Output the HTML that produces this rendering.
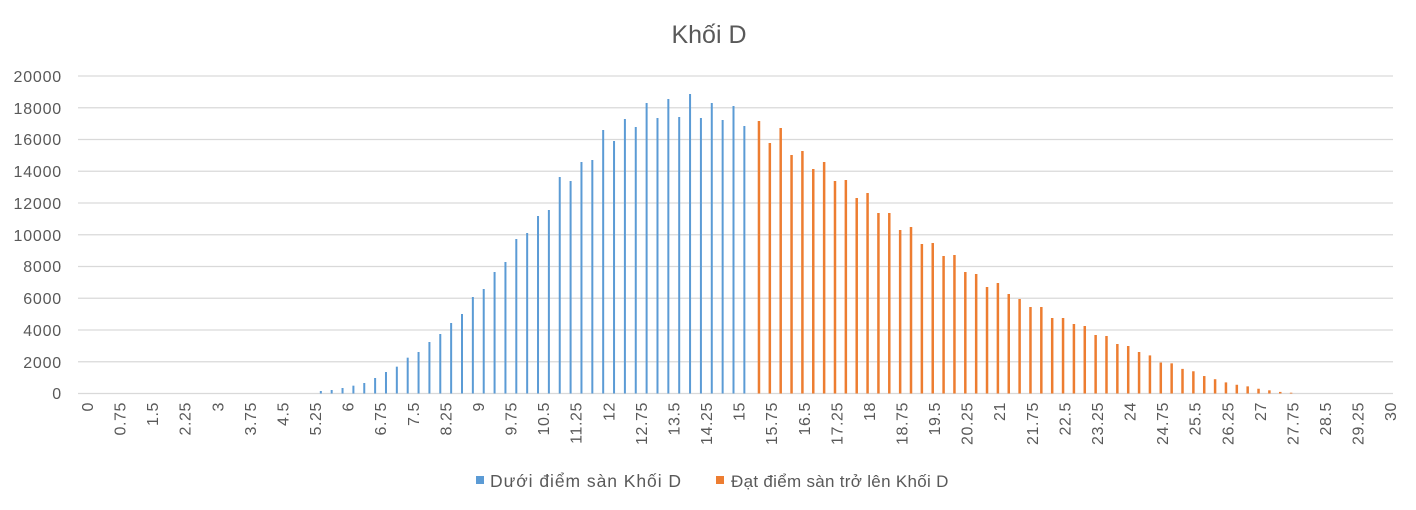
<!DOCTYPE html>
<html><head><meta charset="utf-8"><style>
body{margin:0;background:#fff;}
svg{display:block;font-family:"Liberation Sans",sans-serif;}
</style></head><body>
<svg id="c" width="1416" height="510" viewBox="0 0 1416 510" xmlns="http://www.w3.org/2000/svg">
<rect width="1416" height="510" fill="#fff"/>
<text x="709" y="43" text-anchor="middle" font-size="25" fill="#595959">Khối D</text>
<g stroke="#d9d9d9" stroke-width="1.3">
<line x1="78" x2="1393" y1="76" y2="76"/><line x1="78" x2="1393" y1="107.75" y2="107.75"/>
<line x1="78" x2="1393" y1="139.5" y2="139.5"/><line x1="78" x2="1393" y1="171.25" y2="171.25"/>
<line x1="78" x2="1393" y1="203" y2="203"/><line x1="78" x2="1393" y1="234.75" y2="234.75"/>
<line x1="78" x2="1393" y1="266.5" y2="266.5"/><line x1="78" x2="1393" y1="298.25" y2="298.25"/>
<line x1="78" x2="1393" y1="330" y2="330"/><line x1="78" x2="1393" y1="361.75" y2="361.75"/>
<line x1="78" x2="1393" y1="393.5" y2="393.5"/>
</g>
<g font-size="16" letter-spacing="0.8" fill="#595959" text-anchor="end">
<text x="62" y="82">20000</text><text x="62" y="114">18000</text><text x="62" y="145">16000</text>
<text x="62" y="177">14000</text><text x="62" y="209">12000</text><text x="62" y="241">10000</text>
<text x="62" y="272">8000</text><text x="62" y="304">6000</text><text x="62" y="336">4000</text>
<text x="62" y="368">2000</text><text x="62" y="399">0</text>
</g>
<g id="bars"></g>
<g font-size="16" letter-spacing="0.6" fill="#595959" text-anchor="end">
<text transform="translate(93,402) rotate(-90)">0</text>
<text transform="translate(125.6,402) rotate(-90)">0.75</text>
<text transform="translate(158.2,402) rotate(-90)">1.5</text>
<text transform="translate(190.7,402) rotate(-90)">2.25</text>
<text transform="translate(223.3,402) rotate(-90)">3</text>
<text transform="translate(255.9,402) rotate(-90)">3.75</text>
<text transform="translate(288.5,402) rotate(-90)">4.5</text>
<text transform="translate(321.1,402) rotate(-90)">5.25</text>
<text transform="translate(353.6,402) rotate(-90)">6</text>
<text transform="translate(386.2,402) rotate(-90)">6.75</text>
<text transform="translate(418.8,402) rotate(-90)">7.5</text>
<text transform="translate(451.4,402) rotate(-90)">8.25</text>
<text transform="translate(484,402) rotate(-90)">9</text>
<text transform="translate(516.5,402) rotate(-90)">9.75</text>
<text transform="translate(549.1,402) rotate(-90)">10.5</text>
<text transform="translate(581.7,402) rotate(-90)">11.25</text>
<text transform="translate(614.3,402) rotate(-90)">12</text>
<text transform="translate(646.9,402) rotate(-90)">12.75</text>
<text transform="translate(679.4,402) rotate(-90)">13.5</text>
<text transform="translate(712,402) rotate(-90)">14.25</text>
<text transform="translate(744.6,402) rotate(-90)">15</text>
<text transform="translate(777.2,402) rotate(-90)">15.75</text>
<text transform="translate(809.8,402) rotate(-90)">16.5</text>
<text transform="translate(842.3,402) rotate(-90)">17.25</text>
<text transform="translate(874.9,402) rotate(-90)">18</text>
<text transform="translate(907.5,402) rotate(-90)">18.75</text>
<text transform="translate(940.1,402) rotate(-90)">19.5</text>
<text transform="translate(972.7,402) rotate(-90)">20.25</text>
<text transform="translate(1005.2,402) rotate(-90)">21</text>
<text transform="translate(1037.8,402) rotate(-90)">21.75</text>
<text transform="translate(1070.4,402) rotate(-90)">22.5</text>
<text transform="translate(1103,402) rotate(-90)">23.25</text>
<text transform="translate(1135.6,402) rotate(-90)">24</text>
<text transform="translate(1168.1,402) rotate(-90)">24.75</text>
<text transform="translate(1200.7,402) rotate(-90)">25.5</text>
<text transform="translate(1233.3,402) rotate(-90)">26.25</text>
<text transform="translate(1265.9,402) rotate(-90)">27</text>
<text transform="translate(1298.5,402) rotate(-90)">27.75</text>
<text transform="translate(1331,402) rotate(-90)">28.5</text>
<text transform="translate(1363.6,402) rotate(-90)">29.25</text>
<text transform="translate(1396.2,402) rotate(-90)">30</text>
</g>
<rect x="476" y="476" width="8" height="8" fill="#5b9bd5"/>
<text x="490" y="487" font-size="17.5" letter-spacing="0.95" fill="#595959">Dưới điểm sàn Khối D</text>
<rect x="716" y="476" width="8" height="8" fill="#ed7d31"/>
<text x="731" y="487" font-size="17" letter-spacing="0.3" fill="#595959">Đạt điểm sàn trở lên Khối D</text>
</svg>
<script>
var blue=[933,930,924,917,909,894,876,860,833,816,786,762,729,702,651,627,576,546,477,459,408,390,291,303,246,240,150,183,117,141,69,114,57,111,42,114,69,120,78,138];
var orange=[123,189,144,225,213,267,246,303,300,354,339,399,399,450,441,492,489,528,525,576,582,621,609,642,657,681,681,714,714,732,738,765,768,792,798,816];
var tail=[2400,1950,1900,1550,1400,1100,900,700,550,450,300,200,100,50];
var g=document.getElementById('bars'),s='';
function bar(x,h,w,c){s+='<rect x="'+x.toFixed(2)+'" y="'+(393.5-h).toFixed(2)+'" width="'+w+'" height="'+h.toFixed(2)+'" fill="'+c+'"/>';}
for(var k=0;k<blue.length;k++){var i=22+k,cx=83.4+10.86*i;bar(cx-2.5,313.5-blue[k]/3,2,'#5b9bd5');}
for(var k=0;k<orange.length;k++){var i=62+k,cx=83.4+10.86*i;bar(cx+1,313.5-orange[k]/3,2.5,'#ed7d31');}
for(var k=0;k<tail.length;k++){var i=98+k,cx=83.4+10.86*i;bar(cx+1,tail[k]/2000*31.75,2.5,'#ed7d31');}
g.innerHTML=s;
</script>
</body></html>
